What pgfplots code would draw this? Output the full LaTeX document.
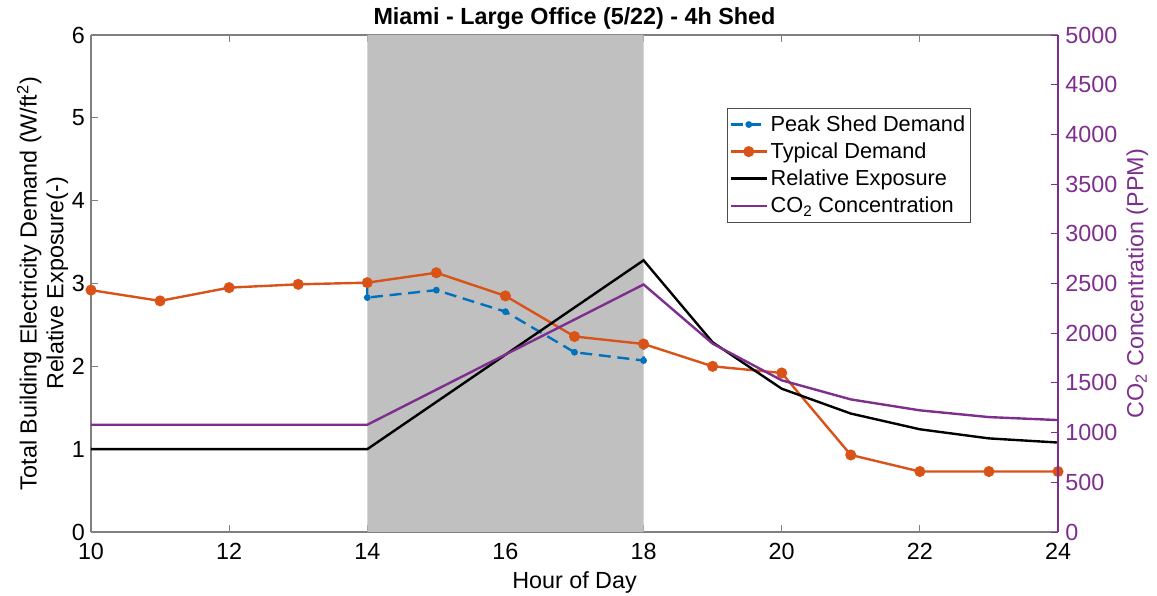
\documentclass[border=0pt]{standalone}
\usepackage{pgfplots}
\pgfplotsset{compat=1.18}
\usepackage{fontspec}
\setmainfont{Liberation Sans}
\definecolor{mblue}{rgb}{0,0.447,0.741}
\definecolor{morange}{rgb}{0.85,0.325,0.098}
\definecolor{mpurple}{rgb}{0.494,0.184,0.556}
\definecolor{shade}{RGB}{192,192,192}
\definecolor{axgray}{RGB}{128,128,128}
\pgfplotsset{
  purpleline/.style={color=mpurple, line width=1.8pt},
}
\begin{document}
\begin{tikzpicture}
\pgfplotsset{every axis/.append style={
  scale only axis, width=725.25pt, height=372.75pt,
  xmin=10, xmax=24,
  font=\fontsize{17.5}{20}\selectfont,
  /pgf/number format/assume math mode=true,
  tick style={line width=0.6pt},
  major tick length=5pt,
}}
\begin{axis}[
  ymin=0, ymax=6,
  axis y line*=left, axis x line*=box,
  xtick={10,12,...,24}, ytick={0,1,...,6},
  tick align=inside,
  axis line style={axgray, line width=0.8pt},
  xticklabel style={yshift=-5pt},
  yticklabel style={xshift=-1pt},
  xlabel={Hour of Day},
  ylabel={Total Building Electricity Demand (W/ft\textsuperscript{2})\\Relative Exposure(-)},
  ylabel style={align=center, yshift=-4pt},
  xlabel style={yshift=-2pt},
  title={\bfseries Miami - Large Office (5/22) - 4h Shed},
  title style={yshift=-5pt},
  legend style={at={(0.658,0.853)}, anchor=north west, draw=black!70,
    font=\fontsize{16.3}{19}\selectfont, inner xsep=1.5pt, inner ysep=3.5pt, row sep=3pt,
    legend cell align=left},
  legend image code/.code={
    \draw[#1, line width=1.8pt] (0cm,0cm) -- (0.95cm,0cm);
    \draw[#1, only marks] plot coordinates {(0.475cm,0cm)};
  },
]
\addplot[fill=shade, draw=none, forget plot] coordinates {(14,0) (14,6) (18,6) (18,0)} \closedcycle;
\addplot[mblue, line width=1.8pt, dash pattern=on 9pt off 5pt, mark=*, mark size=1.6pt,
  mark options={solid}] coordinates {
  (14,3.01) (14,2.83) (15,2.92) (16,2.66) (17,2.17) (18,2.07) (18,2.27)};
\addlegendentry{Peak Shed Demand}
\addplot[morange, line width=1.8pt, mark=*, mark size=3.2pt] coordinates {
  (10,2.92) (11,2.79) (12,2.95) (13,2.99) (14,3.01) (15,3.13) (16,2.85) (17,2.36)
  (18,2.27) (19,2.00) (20,1.92) (21,0.93) (22,0.73) (23,0.73) (24,0.73)};
\addlegendentry{Typical Demand}
\addplot[black, line width=1.8pt] coordinates {
  (10,1) (11,1) (12,1) (13,1) (14,1) (15,1.57) (16,2.14) (17,2.71) (18,3.28)
  (19,2.29) (20,1.73) (21,1.43) (22,1.24) (23,1.13) (24,1.08)};
\addlegendentry{Relative Exposure}
\addlegendimage{purpleline, mark=none}
\addlegendentry{CO\textsubscript{2} Concentration}
\end{axis}
\begin{axis}[
  ymin=0, ymax=5000,
  axis y line*=right, axis x line=none,
  ytick={0,500,...,5000},
  tick align=inside,
  yticklabel style={mpurple, xshift=2pt},
  y tick style={mpurple},
  axis line style={mpurple, line width=0.8pt},
  ylabel={CO\textsubscript{2} Concentration (PPM)},
  ylabel style={mpurple, yshift=0pt},
  scaled y ticks=false,
  yticklabel={\pgfmathprintnumber[fixed, 1000 sep={}]{\tick}},
]
\addplot[purpleline] coordinates {
  (10,1079) (11,1079) (12,1079) (13,1079) (14,1079) (15,1432) (16,1785) (17,2137)
  (18,2490) (19,1895) (20,1526) (21,1334) (22,1224) (23,1156) (24,1126)};
\end{axis}
\pgfresetboundingbox
\path (-68.25pt,-48pt) rectangle (799.5pt,399pt);
\end{tikzpicture}
\end{document}
